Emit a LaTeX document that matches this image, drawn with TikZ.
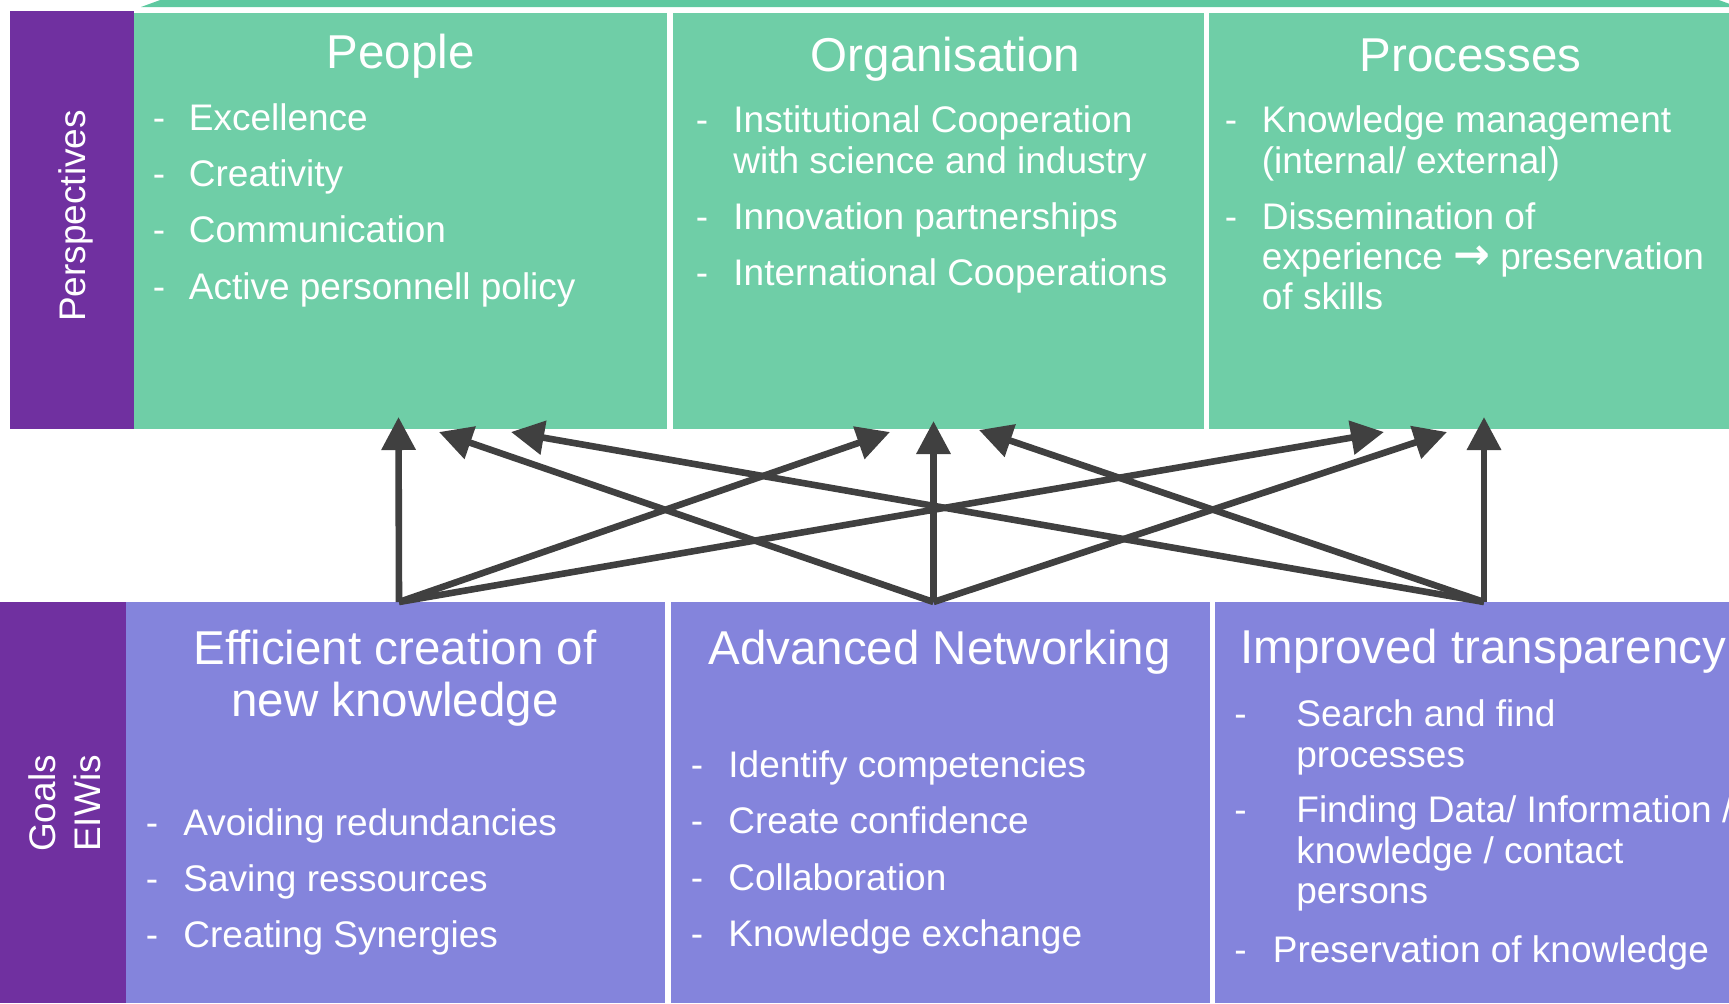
\documentclass[tikz,border=0pt]{standalone}
\usepackage{fontspec}
\setmainfont{Liberation Sans}
\newfontfamily\symfont{DejaVu Sans}
\usetikzlibrary{arrows.meta,fit}
\definecolor{pgreen}{HTML}{6FCEA7}
\definecolor{pgreendark}{HTML}{5EC9A0}
\definecolor{ppurple}{HTML}{7030A0}
\definecolor{plav}{HTML}{8484DC}
\definecolor{parrow}{HTML}{404040}
\begin{document}
\begin{tikzpicture}[x=0.5pt,y=-0.5pt,
  gbox/.style={fill=pgreen, inner sep=0pt, outer sep=0pt, draw=none},
  lbox/.style={fill=plav, inner sep=0pt, outer sep=0pt, draw=none},
  sbox/.style={fill=ppurple, inner sep=0pt, outer sep=0pt, draw=none},
  ttl/.style={text=white, font=\fontsize{23.75pt}{28pt}\selectfont, inner sep=0pt, anchor=base},
  txt/.style={text=white, font=\fontsize{18.5pt}{22pt}\selectfont, inner sep=0pt, anchor=base west},
  dsh/.style={text=white, font=\fontsize{18.5pt}{22pt}\selectfont, inner sep=0pt, anchor=base},
  side/.style={text=white, font=\fontsize{18.5pt}{22pt}\selectfont, inner sep=0pt, anchor=base, rotate=90},
  arr/.style={draw=parrow, line width=3.3pt, -{Triangle[length=16.5pt,width=16.5pt]}}
]
\useasboundingbox (0,0) rectangle (1729,1003);
\clip (0,0) rectangle (1729,1003);
\fill[white] (0,0) rectangle (1729,1003);

% top strip
\fill[pgreendark] (141,7) -- (163,-1) -- (1716,-1) -- (1738,7) -- cycle;

% boxes
\node[sbox, fit={(10,11) (134,429)}] (persp) {};
\node[gbox, fit={(134,13) (667,429)}] (people) {};
\node[gbox, fit={(673,13) (1204,429)}] (orga) {};
\node[gbox, fit={(1209,13) (1729,429)}] (proc) {};
\node[sbox, fit={(0,602) (126,1003)}] (goals) {};
\node[lbox, fit={(126,602) (665,1003)}] (effi) {};
\node[lbox, fit={(671,602) (1210,1003)}] (adv) {};
\node[lbox, fit={(1215,602) (1729,1003)}] (impr) {};

% side labels
\node[side] (lpersp) at (85,216) {Perspectives};
\node[side] (lgoals) at (55,803.5) {Goals};
\node[side] (leiwis) at (100,803.5) {EIWis};

% titles
\node[ttl] (tpeople) at (400.5,68) {People};
\node[ttl] (torga) at (945.5,71) {Organisation};
\node[ttl] (tproc) at (1470.5,71) {Processes};
\node[ttl] (teffi1) at (395,664) {Efficient creation of};
\node[ttl] (teffi2) at (395,716) {new knowledge};
\node[ttl] (tadv) at (939.5,664) {Advanced Networking};
\node[ttl, anchor=base west] (timpr) at (1240,663.5) {Improved transparency};

% People items
\node[dsh] (pd1) at (159,130) {-};
\node[txt] (p1) at (188.5,130) {Excellence};
\node[dsh] (pd2) at (159,186) {-};
\node[txt] (p2) at (188.5,186) {Creativity};
\node[dsh] (pd3) at (159,242) {-};
\node[txt] (p3) at (188.5,242) {Communication};
\node[dsh] (pd4) at (159,299) {-};
\node[txt] (p4) at (188.5,299) {Active personnell policy};

% Organisation items
\node[dsh] (od1) at (702,132) {-};
\node[txt] (o1a) at (733,132) {Institutional Cooperation};
\node[txt] (o1b) at (733,173) {with science and industry};
\node[dsh] (od2) at (702,229) {-};
\node[txt] (o2) at (733,229) {Innovation partnerships};
\node[dsh] (od3) at (702,285) {-};
\node[txt] (o3) at (733,285) {International Cooperations};

% Processes items
\node[dsh] (rd1) at (1231,132) {-};
\node[txt] (r1a) at (1261.5,132) {Knowledge management};
\node[txt] (r1b) at (1261.5,173) {(internal/ external)};
\node[dsh] (rd2) at (1231,229) {-};
\node[txt] (r2a) at (1261.5,229) {Dissemination of};
\node[txt] (r2b) at (1261.5,269) {experience {\symfont\bfseries\fontsize{22pt}{22pt}\selectfont →} preservation};
\node[txt] (r2c) at (1261.5,309) {of skills};

% Efficient items
\node[dsh] (ed1) at (152,835) {-};
\node[txt] (e1) at (183,835) {Avoiding redundancies};
\node[dsh] (ed2) at (152,891) {-};
\node[txt] (e2) at (183,891) {Saving ressources};
\node[dsh] (ed3) at (152,947) {-};
\node[txt] (e3) at (183,947) {Creating Synergies};

% Advanced items
\node[dsh] (ad1) at (697,777) {-};
\node[txt] (a1) at (728,777) {Identify competencies};
\node[dsh] (ad2) at (697,833) {-};
\node[txt] (a2) at (728,833) {Create confidence};
\node[dsh] (ad3) at (697,890) {-};
\node[txt] (a3) at (728,890) {Collaboration};
\node[dsh] (ad4) at (697,946) {-};
\node[txt] (a4) at (728,946) {Knowledge exchange};

% Improved items
\node[dsh] (id1) at (1240.5,726.6) {-};
\node[txt] (i1a) at (1296,726.6) {Search and find};
\node[txt] (i1b) at (1296,767) {processes};
\node[dsh] (id2) at (1240.5,822.8) {-};
\node[txt] (i2a) at (1296,822.8) {Finding Data/ Information /};
\node[txt] (i2b) at (1296,863) {knowledge / contact};
\node[txt] (i2c) at (1296,903.8) {persons};
\node[dsh] (id3) at (1240.5,962.8) {-};
\node[txt] (i3) at (1272.5,962.8) {Preservation of knowledge};

% connector ends
\coordinate (s1) at (399,602);
\coordinate (s2) at (933.5,602);
\coordinate (s3) at (1484,602);
\coordinate (t1up) at (398.5,417);
\coordinate (t1org) at (890,432);
\coordinate (t1proc) at (1384,432);
\coordinate (t2up) at (933.5,421);
\coordinate (t2peo) at (439,432);
\coordinate (t2proc) at (1447,432);
\coordinate (t3up) at (1484,417);
\coordinate (t3peo) at (511,432);
\coordinate (t3org) at (979,430);

\draw[arr] (s1) -- (t1up);
\draw[arr] (s1) -- (t1org);
\draw[arr] (s1) -- (t1proc);
\draw[arr] (s2) -- (t2up);
\draw[arr] (s2) -- (t2peo);
\draw[arr] (s2) -- (t2proc);
\draw[arr] (s3) -- (t3up);
\draw[arr] (s3) -- (t3peo);
\draw[arr] (s3) -- (t3org);
\end{tikzpicture}
\end{document}
